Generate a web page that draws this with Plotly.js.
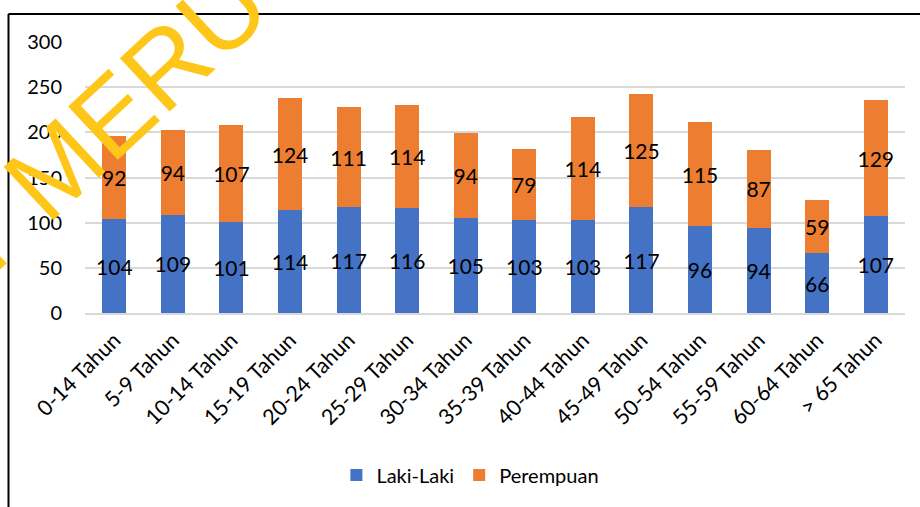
<!DOCTYPE html>
<html>
<head>
<meta charset="utf-8">
<script src="https://cdn.plot.ly/plotly-3.0.1.min.js"></script>
<style>
html,body{margin:0;padding:0;background:#fff;}
#chart{width:920px;height:507px;}
</style>
</head>
<body>
<div id="chart"></div>
<script>
const categories = ['0-14 Tahun','5-9 Tahun','10-14 Tahun','15-19 Tahun','20-24 Tahun','25-29 Tahun','30-34 Tahun','35-39 Tahun','40-44 Tahun','45-49 Tahun','50-54 Tahun','55-59 Tahun','60-64 Tahun','> 65 Tahun'];
const lakiLaki = [104,109,101,114,117,116,105,103,103,117,96,94,66,107];
const perempuan = [92,94,107,124,111,114,94,79,114,125,115,87,59,129];
const yTicks = [0,50,100,150,200,250,300];

const FONT = 'Lato, "Liberation Sans", sans-serif';

const common = {
  type: 'bar',
  x: categories,
  textposition: 'inside',
  insidetextanchor: 'middle',
  textangle: 0,
  constraintext: 'none',
  cliponaxis: false,
  textfont: {family: FONT, size: 21, color: '#000'},
  hoverinfo: 'x+y+name'
};

const traces = [
  Object.assign({}, common, {
    name: 'Laki-Laki',
    y: lakiLaki,
    text: lakiLaki.map(String),
    marker: {color: '#4472C4'}
  }),
  Object.assign({}, common, {
    name: 'Perempuan',
    y: perempuan,
    text: perempuan.map(String),
    marker: {color: '#ED7D31'}
  })
];

const layout = {
  width: 920,
  height: 507,
  margin: {l: 85, r: 15, t: 42, b: 194},
  paper_bgcolor: '#fff',
  plot_bgcolor: '#fff',
  barmode: 'stack',
  bargap: 0.59,
  font: {family: FONT, size: 20, color: '#000'},
  showlegend: true,
  legend: {
    orientation: 'h',
    x: 0.47, xanchor: 'center',
    y: -0.598, yanchor: 'middle',
    font: {family: FONT, size: 20, color: '#000'},
    itemwidth: 30,
    traceorder: 'normal'
  },
  xaxis: {
    type: 'category',
    tickangle: -45,
    tickfont: {family: FONT, size: 21.5, color: '#000'},
    ticklabelstandoff: 4,
    showline: true,
    linecolor: '#D9D9D9',
    linewidth: 2,
    ticks: '',
    showgrid: false
  },
  yaxis: {
    range: [0, 300],
    tickvals: yTicks,
    ticktext: yTicks.map(String),
    tickfont: {family: FONT, size: 20, color: '#000'},
    showgrid: true,
    gridcolor: '#D9D9D9',
    gridwidth: 2,
    zeroline: false,
    showline: false,
    ticks: '',
    ticklabelstandoff: 22
  },
  shapes: [
    {type: 'line', xref: 'paper', yref: 'paper', x0: -0.0933, x1: 1.03, y0: 1.1033, y1: 1.1033, line: {color: '#000', width: 2}},
    {type: 'line', xref: 'paper', yref: 'paper', x0: -0.0933, x1: -0.0933, y0: 1.1033, y1: -0.75, line: {color: '#000', width: 2}}
  ],
  annotations: [
    {
      text: 'T MERU',
      xref: 'paper', yref: 'paper',
      x: (102 - 85) / 820, y: (313 - 124) / 271,
      xanchor: 'center', yanchor: 'middle',
      showarrow: false,
      textangle: -43,
      font: {family: '"Liberation Sans", Arial, sans-serif', size: 106, color: '#FFC61A'}
    }
  ]
};

Plotly.newPlot('chart', traces, layout, {displayModeBar: false, staticPlot: true});
</script>
</body>
</html>
